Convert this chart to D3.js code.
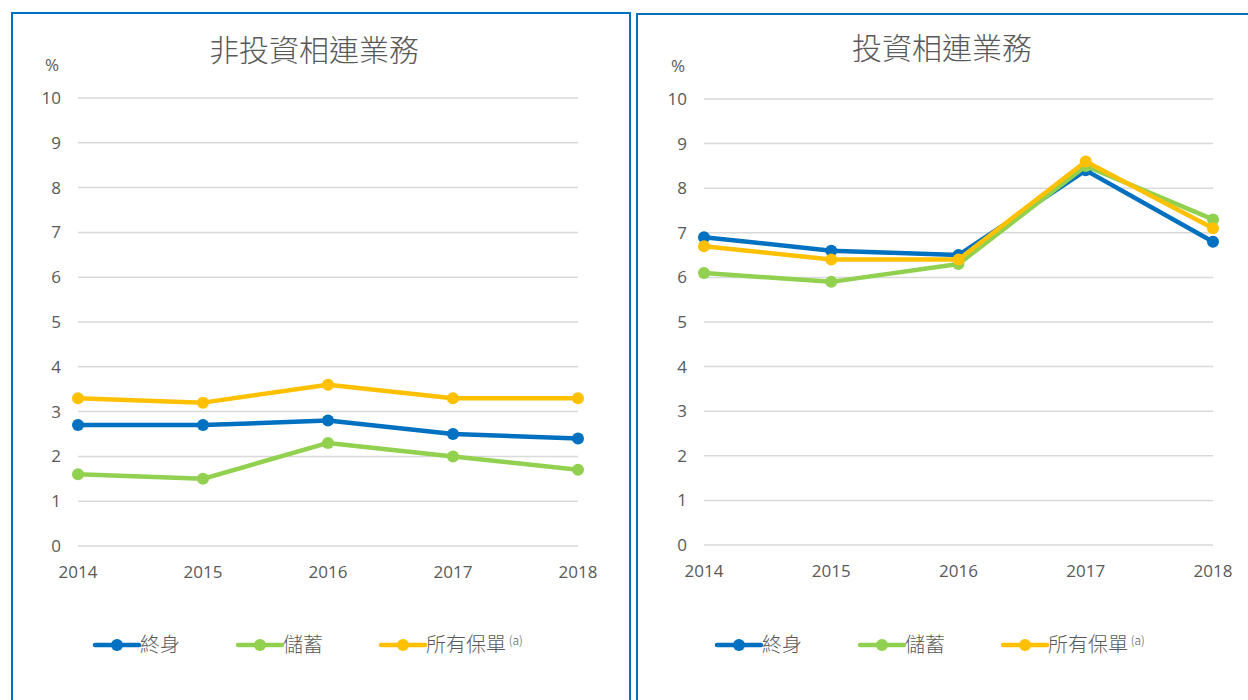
<!DOCTYPE html>
<html>
<head>
<meta charset="utf-8">
<script src="https://cdn.jsdelivr.net/npm/d3@7"></script>
<style>
  body { margin: 0; background: #fff; }
  svg text { font-family: "Open Sans", "Noto Sans CJK TC", sans-serif; fill: #595959; }
</style>
</head>
<body>
<div id="chart"></div>
<script>
// data
const years = [2014, 2015, 2016, 2017, 2018];
const seriesNames = ["終身", "儲蓄", "所有保單"];
const seriesColors = ["#0070C0", "#92D050", "#FFC000"];
const yTicks = [0, 1, 2, 3, 4, 5, 6, 7, 8, 9, 10];

const leftTitle = "非投資相連業務";
const leftWhole = [2.7, 2.7, 2.8, 2.5, 2.4];
const leftSaving = [1.6, 1.5, 2.3, 2.0, 1.7];
const leftAll = [3.3, 3.2, 3.6, 3.3, 3.3];

const rightTitle = "投資相連業務";
const rightWhole = [6.9, 6.6, 6.5, 8.4, 6.8];
const rightSaving = [6.1, 5.9, 6.3, 8.5, 7.3];
const rightAll = [6.7, 6.4, 6.4, 8.6, 7.1];

let width = 1248,
    height = 700;

let svg = d3.select("#chart")
    .append("svg")
    .attr("width", width)
    .attr("height", height);

// one panel
function drawPanel(p) {
    let g = svg.append("g");

    // frame
    g.append("rect")
        .attr("x", p.box[0]).attr("y", p.box[1])
        .attr("width", p.box[2]).attr("height", p.box[3])
        .attr("fill", "none")
        .attr("stroke", "#0070C0")
        .attr("stroke-width", 2);

    let x = d3.scalePoint().domain(years).range([p.x0, p.x1]);
    let y = d3.scaleLinear().domain([0, 10]).range([p.y0, p.y1]);

    // gridlines
    g.selectAll(".grid").data(yTicks).enter()
        .append("line")
        .attr("x1", p.x0).attr("x2", p.x1)
        .attr("y1", d => y(d)).attr("y2", d => y(d))
        .attr("stroke", "#d9d9d9")
        .attr("stroke-width", 1.5);

    // y labels
    g.selectAll(".ylab").data(yTicks).enter()
        .append("text")
        .attr("x", p.x0 - 17)
        .attr("y", d => y(d))
        .attr("dy", "0.35em")
        .attr("text-anchor", "end")
        .style("font-size", "17px")
        .text(d => d);

    // x labels
    g.selectAll(".xlab").data(years).enter()
        .append("text")
        .attr("x", d => x(d))
        .attr("y", p.y0 + 32)
        .attr("text-anchor", "middle")
        .style("font-size", "17px")
        .text(d => d);

    g.append("text")
        .attr("x", p.x0 - 26)
        .attr("y", p.y1 - 27)
        .attr("text-anchor", "middle")
        .style("font-size", "17px")
        .text("%");

    g.append("text")
        .attr("x", p.titleX)
        .attr("y", p.titleY)
        .attr("text-anchor", "middle")
        .style("font-family", "'Noto Sans CJK TC', sans-serif")
        .style("font-size", "30px")
        .style("font-weight", 300)
        .text(p.title);

    let line = d3.line()
        .x((d, i) => x(years[i]))
        .y(d => y(d));

    p.series.forEach((vals, k) => {
        g.append("path")
            .datum(vals)
            .attr("d", line)
            .attr("fill", "none")
            .attr("stroke", seriesColors[k])
            .attr("stroke-width", 4.5)
            .attr("stroke-linejoin", "round");
        g.selectAll(".dot" + k).data(vals).enter()
            .append("circle")
            .attr("cx", (d, i) => x(years[i]))
            .attr("cy", d => y(d))
            .attr("r", 6)
            .attr("fill", seriesColors[k]);
    });

    // legend
    seriesNames.forEach((name, k) => {
        let lx = p.legendX + k * 143;
        let ly = 645;
        g.append("line")
            .attr("x1", lx).attr("x2", lx + 44)
            .attr("y1", ly).attr("y2", ly)
            .attr("stroke", seriesColors[k])
            .attr("stroke-width", 4.5)
            .attr("stroke-linecap", "round");
        g.append("circle")
            .attr("cx", lx + 22).attr("cy", ly).attr("r", 6)
            .attr("fill", seriesColors[k]);
        let t = g.append("text")
            .attr("x", lx + 45)
            .attr("y", ly)
            .attr("dy", "0.35em")
            .style("font-family", "'Noto Sans CJK TC', sans-serif")
            .style("font-size", "20px")
            .style("font-weight", 300)
            .text(name);
        if (k == 2) {
            t.append("tspan")
                .attr("dy", "-0.55em")
                .style("font-size", "12px")
                .text(" (a)");
        }
    });
}

drawPanel({
    box: [12, 13, 618, 700],
    x0: 78, x1: 578, y0: 546, y1: 98,
    titleX: 314, titleY: 61,
    title: leftTitle,
    series: [leftWhole, leftSaving, leftAll],
    legendX: 95
});

drawPanel({
    box: [637, 14, 620, 700],
    x0: 704, x1: 1213, y0: 545, y1: 99,
    titleX: 942, titleY: 59,
    title: rightTitle,
    series: [rightWhole, rightSaving, rightAll],
    legendX: 717
});
</script>
</body>
</html>
